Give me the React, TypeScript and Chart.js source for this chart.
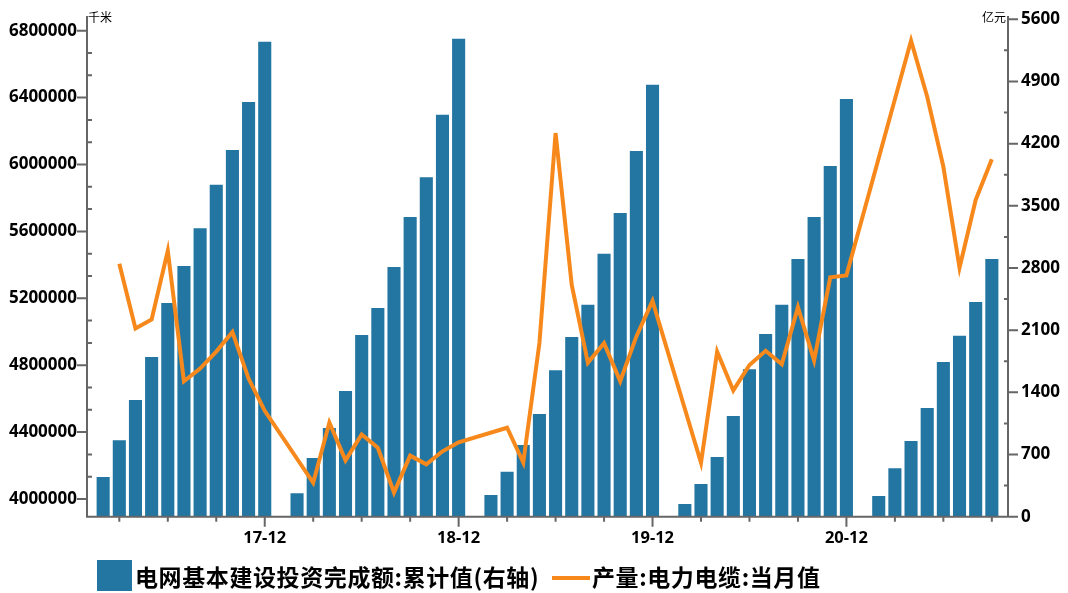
import React, { useEffect, useRef } from "react";
import { Chart, registerables } from "chart.js";

Chart.register(...registerables);

// Month categories (YY-MM)
const months: string[] = [
  "17-01","17-02","17-03","17-04","17-05","17-06","17-07","17-08","17-09","17-10","17-11","17-12",
  "18-01","18-02","18-03","18-04","18-05","18-06","18-07","18-08","18-09","18-10","18-11","18-12",
  "19-01","19-02","19-03","19-04","19-05","19-06","19-07","19-08","19-09","19-10","19-11","19-12",
  "20-01","20-02","20-03","20-04","20-05","20-06","20-07","20-08","20-09","20-10","20-11","20-12",
  "21-01","21-02","21-03","21-04","21-05","21-06","21-07","21-08","21-09","21-10",
];

// 电网基本建设投资完成额:累计值 (亿元, right axis)
const gridInvestment: (number | null)[] = [
  null, 447, 861, 1315, 1798, 2407, 2822, 3248, 3736, 4128, 4668, 5346,
  null, 264, 660, 999, 1414, 2046, 2350, 2810, 3374, 3823, 4524, 5380,
  null, 245, 505, 806, 1155, 1649, 2022, 2385, 2959, 3419, 4116, 4862,
  null, 142, 367, 671, 1133, 1661, 2057, 2385, 2902, 3374, 3949, 4702,
  null, 234, 546, 851, 1224, 1741, 2036, 2418, 2902, null,
];

// 产量:电力电缆:当月值 (千米, left axis)
const cableOutput: (number | null)[] = [
  null, null, 5407000, 5019000, 5073000, 5484000, 4704000, 4780000, 4881000, 4998000, 4720000, 4527000,
  null, null, 4097000, 4457000, 4231000, 4386000, 4306000, 4038000, 4259000, 4207000, 4285000, 4339000,
  null, null, 4426000, 4218000, 4933000, 6188000, 5280000, 4815000, 4932000, 4704000, 4972000, 5184000,
  null, null, 4216000, 4881000, 4649000, 4801000, 4886000, 4806000, 5147000, 4828000, 5325000, 5337000,
  null, null, null, 6741000, 6405000, 5987000, 5383000, 5788000, 6031000, null,
];

const leftTicks: number[] = [4000000, 4400000, 4800000, 5200000, 5600000, 6000000, 6400000, 6800000];
const rightTicks: number[] = [0, 700, 1400, 2100, 2800, 3500, 4200, 4900, 5600];
const leftMinorStep = 400000 / 3;
const rightMinorStep = 350;

const BAR_NAME = "电网基本建设投资完成额:累计值(右轴)";
const LINE_NAME = "产量:电力电缆:当月值";
const LEFT_UNIT = "千米";
const RIGHT_UNIT = "亿元";

const BAR_COLOR = "#2376a2";
const LINE_COLOR = "#f7891c";
const AXIS_COLOR = "#666666";
const Y_FONT = { family: "'Noto Sans', sans-serif", size: 17, weight: "bold" as const };
const X_FONT = { family: "'Noto Sans', sans-serif", size: 16.5, weight: "bold" as const };

const axisPlugin = {
  id: "customAxes",
  afterDraw(chart: any) {
    const ctx = chart.ctx;
    const { left, right, top, bottom } = chart.chartArea;
    const yL = chart.scales.y;
    const yR = chart.scales.y1;
    const x = chart.scales.x;
    ctx.save();
    ctx.strokeStyle = AXIS_COLOR;
    ctx.lineWidth = 2;
    ctx.beginPath();
    ctx.moveTo(left, top); ctx.lineTo(left, bottom + 1);
    ctx.moveTo(right, top); ctx.lineTo(right, bottom + 1);
    ctx.moveTo(left - 1, bottom); ctx.lineTo(right + 1, bottom);
    leftTicks.forEach((v) => {
      const p = yL.getPixelForValue(v);
      ctx.moveTo(left - 10, p); ctx.lineTo(left, p);
    });
    for (let k = 0; ; k++) {
      const v = leftTicks[0] + k * leftMinorStep;
      if (v > yL.max) break;
      if (k % 3 === 0) continue;
      const p = yL.getPixelForValue(v);
      ctx.moveTo(left, p); ctx.lineTo(left + 5, p);
    }
    rightTicks.forEach((v) => {
      const p = yR.getPixelForValue(v);
      ctx.moveTo(right, p); ctx.lineTo(right + 10, p);
    });
    for (let k = 1; ; k += 2) {
      const v = k * rightMinorStep;
      if (v > yR.max) break;
      const p = yR.getPixelForValue(v);
      ctx.moveTo(right - 4, p); ctx.lineTo(right, p);
    }
    months.forEach((m, i) => {
      const mm = parseInt(m.slice(3), 10);
      if (mm % 3 !== 0) return;
      const p = x.getPixelForValue(i);
      ctx.moveTo(p, bottom); ctx.lineTo(p, bottom + (mm === 12 ? 10 : 5));
    });
    ctx.stroke();
    ctx.fillStyle = "#000";
    ctx.font = "12px 'Noto Sans CJK SC', sans-serif";
    ctx.textBaseline = "middle";
    ctx.textAlign = "left";
    ctx.fillText(LEFT_UNIT, left + 1, 17.5);
    ctx.textAlign = "right";
    ctx.fillText(RIGHT_UNIT, right - 2, 17.5);
    ctx.restore();
  },
};

export default function App() {
  const ref = useRef<HTMLCanvasElement | null>(null);

  useEffect(() => {
    document.body.style.margin = "0";
    if (!ref.current) return;
    const chart = new Chart(ref.current, {
      type: "bar",
      data: {
        labels: months,
        datasets: [
          {
            type: "line",
            label: LINE_NAME,
            data: cableOutput,
            yAxisID: "y",
            borderColor: LINE_COLOR,
            backgroundColor: LINE_COLOR,
            borderWidth: 4,
            pointRadius: 0,
            tension: 0,
            spanGaps: true,
            order: 0,
          } as any,
          {
            type: "bar",
            label: BAR_NAME,
            data: gridInvestment,
            yAxisID: "y1",
            backgroundColor: BAR_COLOR,
            categoryPercentage: 1,
            barPercentage: 0.81,
            order: 1,
          } as any,
        ],
      },
      options: {
        animation: false,
        responsive: false,
        devicePixelRatio: 1,
        layout: { padding: { top: 16, left: 0, right: 0, bottom: 0 } },
        plugins: { legend: { display: false }, tooltip: { enabled: false } },
        scales: {
          x: {
            type: "category",
            offset: false,
            grid: { display: false, drawTicks: false, offset: false },
            border: { display: false },
            ticks: {
              autoSkip: false,
              maxRotation: 0,
              minRotation: 0,
              padding: 12,
              color: "#000",
              font: X_FONT,
              callback: (_v: any, i: number) => (months[i].endsWith("-12") ? months[i] : ""),
            },
            afterFit: (s: any) => { s.height = 76.3; s.paddingLeft = 0; s.paddingRight = 0; },
          },
          y: {
            type: "linear",
            position: "left",
            min: 3894000,
            max: 6888000,
            grid: { display: false, drawTicks: false },
            border: { display: false },
            ticks: { padding: 10, color: "#000", font: Y_FONT, callback: (v: any) => String(v) },
            afterBuildTicks: (s: any) => { s.ticks = leftTicks.map((v) => ({ value: v })); },
            afterFit: (s: any) => { s.width = 87; s.paddingTop = 0; s.paddingBottom = 0; },
          },
          y1: {
            type: "linear",
            position: "right",
            min: 0,
            max: 5637,
            grid: { display: false, drawTicks: false },
            border: { display: false },
            ticks: { padding: 13, color: "#000", font: Y_FONT, callback: (v: any) => String(v) },
            afterBuildTicks: (s: any) => { s.ticks = rightTicks.map((v) => ({ value: v })); },
            afterFit: (s: any) => { s.width = 60; s.paddingTop = 0; s.paddingBottom = 0; },
          },
        },
      },
      plugins: [axisPlugin],
    });
    return () => chart.destroy();
  }, []);

  const legendFont: React.CSSProperties = {
    fontFamily: "'Noto Sans CJK SC', sans-serif",
    fontWeight: 700,
    fontSize: "23px",
    letterSpacing: "0.6px",
    color: "#000",
    whiteSpace: "nowrap",
    lineHeight: "31px",
  };

  return (
    <div style={{ position: "relative", width: 1068, height: 593, background: "#fff" }}>
      <canvas ref={ref} width={1068} height={593} style={{ position: "absolute", left: 0, top: 0, width: 1068, height: 593 }} />
      <div style={{ position: "absolute", left: 97, top: 560, width: 35, height: 31, background: BAR_COLOR }} />
      <div style={{ position: "absolute", left: 135, top: 561, ...legendFont }}>{BAR_NAME}</div>
      <div style={{ position: "absolute", left: 552, top: 576, width: 38, height: 4, background: LINE_COLOR }} />
      <div style={{ position: "absolute", left: 592, top: 561, ...legendFont }}>{LINE_NAME}</div>
    </div>
  );
}
